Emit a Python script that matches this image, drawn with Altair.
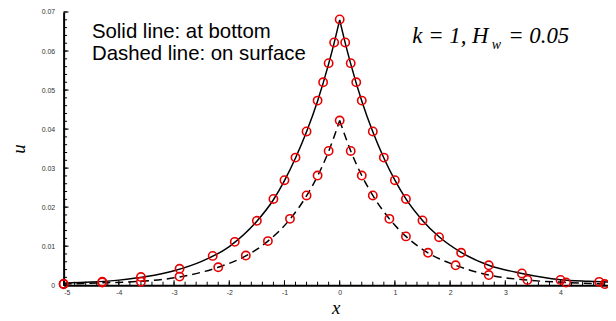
import altair as alt
import pandas as pd

# ---- data ----
solid_line_x = [-5, -4.5, -4, -3.5, -3, -2.5, -2, -1.5, -1.2, -1.0, -0.8, -0.6, -0.4, -0.2, -0.1, 0,
                0.1, 0.2, 0.4, 0.6, 0.8, 1.0, 1.2, 1.5, 1.8, 2.2, 2.7, 3.3, 4.0, 4.5, 4.86]
solid_line_y = [0.0005, 0.0008, 0.0013, 0.0022, 0.0037, 0.0061, 0.0099, 0.0164, 0.0219, 0.0268, 0.0326,
                0.0393, 0.0472, 0.0567, 0.0621, 0.0680,
                0.0621, 0.0567, 0.0472, 0.0393, 0.0326, 0.0269, 0.0221, 0.0166, 0.0124, 0.0084, 0.0051,
                0.0030, 0.0014, 0.0010, 0.0008]

dashed_line_x = [-5, -4.3, -3.6, -2.9, -2.2, -1.7, -1.3, -0.9, -0.6, -0.4, -0.2, 0,
                 0.2, 0.4, 0.6, 0.9, 1.2, 1.6, 2.1, 2.7, 3.4, 4.1, 4.86]
dashed_line_y = [0.0003, 0.0006, 0.0010, 0.0021, 0.0046, 0.0075, 0.0113, 0.0169, 0.0229, 0.0280, 0.0343, 0.0422,
                 0.0344, 0.0281, 0.0230, 0.0170, 0.0125, 0.0083, 0.0051, 0.0026, 0.0013, 0.0007, 0.0003]

bottom_pts_x = [-5.0, -4.3, -3.6, -2.9, -2.3, -1.9, -1.5, -1.2, -1.0, -0.8, -0.6, -0.4, -0.3, -0.2, -0.1, 0,
                0.1, 0.2, 0.3, 0.4, 0.6, 0.8, 1.0, 1.2, 1.5, 1.8, 2.2, 2.7, 3.3, 4.0, 4.7]
bottom_pts_y = [0.0004, 0.0009, 0.0021, 0.0042, 0.0075, 0.0111, 0.0165, 0.0221, 0.0269, 0.0327, 0.0394, 0.0473,
                0.0520, 0.0569, 0.0622, 0.0681,
                0.0622, 0.0569, 0.0520, 0.0473, 0.0394, 0.0327, 0.0269, 0.0221, 0.0166, 0.0123, 0.0083,
                0.0051, 0.0030, 0.00135, 0.00085]

surface_pts_x = [-5.0, -4.3, -3.6, -2.9, -2.2, -1.7, -1.3, -0.9, -0.6, -0.4, -0.2, 0,
                 0.2, 0.4, 0.6, 0.9, 1.2, 1.6, 2.1, 2.7, 3.4, 4.1, 4.8]
surface_pts_y = [0.00025, 0.0007, 0.0009, 0.0022, 0.0046, 0.0076, 0.0113, 0.0170, 0.0230, 0.0281, 0.0344, 0.0422,
                 0.0344, 0.0281, 0.0230, 0.0170, 0.0125, 0.0083, 0.0051, 0.0026, 0.00135, 0.0007, 0.0003]

x_major = [-5, -4, -3, -2, -1, 0, 1, 2, 3, 4]
x_minor = [round(-5 + 0.2 * i, 2) for i in range(50)]
y_major = [0, 0.01, 0.02, 0.03, 0.04, 0.05, 0.06, 0.07]
y_minor = [round(0.002 * i, 3) for i in range(36)]

X_DOMAIN = [-5, 4.86]
Y_DOMAIN = [0, 0.07]
W, H = 548, 275


def halves(xs, ys):
    rows = []
    for x, y in zip(xs, ys):
        if x <= 0:
            rows.append({"x": x, "y": y, "half": "L"})
        if x >= 0:
            rows.append({"x": x, "y": y, "half": "R"})
    return pd.DataFrame(rows)


solid_df = halves(solid_line_x, solid_line_y)
dashed_df = halves(dashed_line_x, dashed_line_y)
pts_df = pd.DataFrame({"x": bottom_pts_x + surface_pts_x, "y": bottom_pts_y + surface_pts_y})

xscale = alt.Scale(domain=X_DOMAIN, nice=False, zero=False)
yscale = alt.Scale(domain=Y_DOMAIN, nice=False, zero=False)

x_axis = alt.Axis(values=x_major, labelExpr="'' + datum.value", ticks=False, tickSize=0, grid=False,
                  domainColor="black", domainWidth=2, labelFont="Liberation Sans", labelFontSize=7,
                  labelColor="#333", labelPadding=3, titleFont="Liberation Serif", titleFontStyle="italic",
                  titleFontWeight="normal", titleFontSize=19, titleColor="black", titlePadding=4)
y_axis = alt.Axis(values=y_major, format=".2~f", ticks=False, tickSize=0, grid=False,
                  domainColor="black", domainWidth=2, labelFont="Liberation Sans", labelFontSize=7,
                  labelColor="#333", labelPadding=9, titleFont="Liberation Serif", titleFontStyle="italic",
                  titleFontWeight="normal", titleFontSize=19, titleColor="black", titlePadding=13)


def X(field="x"):
    return alt.X(f"{field}:Q", scale=xscale, axis=x_axis, title="x")


def Y(field="y"):
    return alt.Y(f"{field}:Q", scale=yscale, axis=y_axis, title="u")


solid = alt.Chart(solid_df).mark_line(color="black", strokeWidth=1.5, interpolate="monotone").encode(
    x=X(), y=Y(), detail="half:N")
dashed = alt.Chart(dashed_df).mark_line(color="black", strokeWidth=1.5, strokeDash=[8, 5],
                                         interpolate="monotone").encode(x=X(), y=Y(), detail="half:N")
points = alt.Chart(pts_df).mark_point(shape="circle", color="#e60000", filled=False, size=70,
                                      strokeWidth=1.6, opacity=1).encode(x=X(), y=Y())

xmaj = alt.Chart(pd.DataFrame({"x": x_major})).mark_rule(color="black", strokeWidth=1).encode(
    x=X(), y=alt.value(H), y2=alt.value(H - 5))
xmin = alt.Chart(pd.DataFrame({"x": x_minor})).mark_rule(color="black", strokeWidth=1).encode(
    x=X(), y=alt.value(H), y2=alt.value(H - 3.5))
ymaj = alt.Chart(pd.DataFrame({"y": y_major})).mark_rule(color="black", strokeWidth=1).encode(
    y=Y(), x=alt.value(0), x2=alt.value(5))
ymin = alt.Chart(pd.DataFrame({"y": y_minor})).mark_rule(color="black", strokeWidth=1).encode(
    y=Y(), x=alt.value(0), x2=alt.value(3.5))

note_df = pd.DataFrame({"t": [0]})


def label(text, x, y, font, size, style="normal", align="left"):
    return alt.Chart(note_df).mark_text(text=text, font=font, fontSize=size, fontStyle=style,
                                        align=align, baseline="alphabetic", color="black").encode(
        x=alt.value(x), y=alt.value(y))


t1 = label("Solid line: at bottom", 28.5, 26.5, "Liberation Sans", 20.5)
t2 = label("Dashed line: on surface", 28.5, 48, "Liberation Sans", 20.5)
k1 = label("k = 1, H", 351, 30.7, "Liberation Serif", 23, "italic")
k2 = label("w", 431, 37.3, "Liberation Serif", 14, "italic")
k3 = label("= 0.05", 447.5, 30.7, "Liberation Serif", 23, "italic")

chart = alt.layer(xmin, xmaj, ymin, ymaj, solid, dashed, points, t1, t2, k1, k2, k3).properties(
    width=W, height=H,
    autosize=alt.AutoSizeParams(type="none"),
    padding={"left": 56, "top": 3, "right": 0, "bottom": 34},
).configure_view(stroke=None)

chart.save("out.html", embed_options={"renderer": "svg", "actions": False})
